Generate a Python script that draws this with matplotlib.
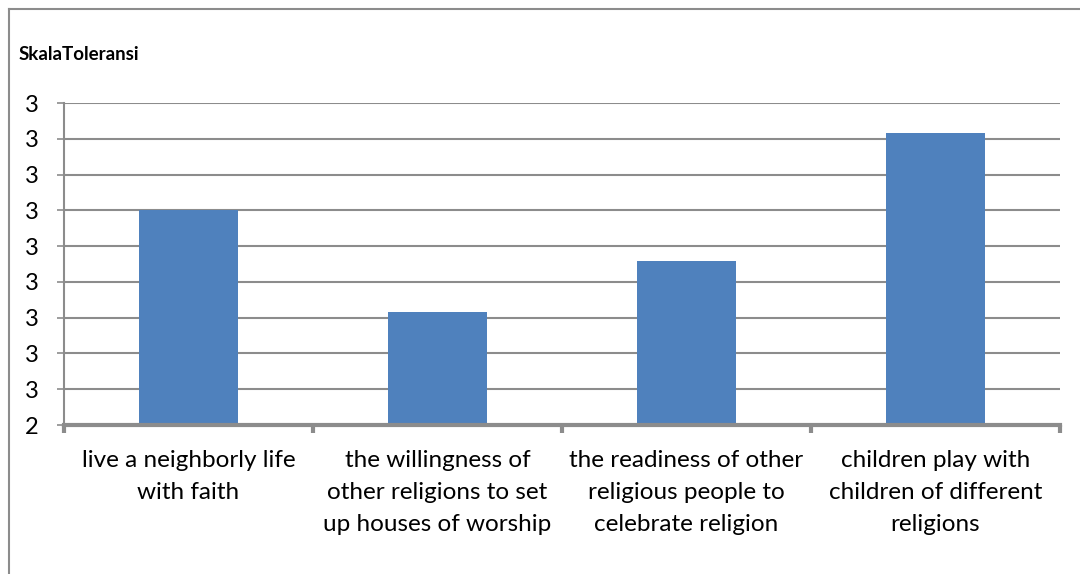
import matplotlib.pyplot as plt
from matplotlib.lines import Line2D

plt.rcParams['font.family'] = ['Lato', 'DejaVu Sans']

categories = [
    'live a neighborly life\nwith faith',
    'the willingness of\nother religions to set\nup houses of worship',
    'the readiness of other\nreligious people to\ncelebrate religion',
    'children play with\nchildren of different\nreligions',
]
values = [2.75, 2.608, 2.679, 2.858]
y_ticks = [2.45, 2.50, 2.55, 2.60, 2.65, 2.70, 2.75, 2.80, 2.85, 2.90]
y_labels = ['2', '3', '3', '3', '3', '3', '3', '3', '3', '3']

grey = '#8c8c8c'

fig = plt.figure(figsize=(10.8, 5.74), dpi=100)
ax = fig.add_axes([64 / 1080, 1 - 425 / 574, 996 / 1080, 322 / 574])

x = range(len(categories))
ax.bar(x, values, width=0.4, color='#4f81bd', zorder=3)

ax.set_xlim(-0.5, len(categories) - 0.5)
ax.set_ylim(y_ticks[0], y_ticks[-1])

ax.set_yticks(y_ticks)
ax.set_yticklabels(y_labels, fontsize=17)
ax.yaxis.grid(True, color=grey, linewidth=1.5, zorder=0)
ax.tick_params(axis='y', length=5, width=1.2, color=grey, pad=13)

ax.set_xticks(list(x))
ax.set_xticklabels(categories, fontsize=17.5, linespacing=1.66)
ax.tick_params(axis='x', which='major', length=0, pad=18)
ax.set_xticks([i - 0.5 for i in range(len(categories) + 1)], minor=True)
ax.tick_params(axis='x', which='minor', length=6, width=3, color=grey,
               direction='out')

for side in ['top', 'right']:
    ax.spines[side].set_visible(False)
ax.spines['left'].set_color(grey)
ax.spines['left'].set_linewidth(1.5)
ax.spines['bottom'].set_color(grey)
ax.spines['bottom'].set_linewidth(3)
ax.spines['bottom'].set_zorder(4)

fig.text(19 / 1080, 1 - 55 / 574, 'SkalaToleransi', fontsize=13.5,
         fontweight='bold', va='center', ha='left')

# outer chart frame (left and top edges visible)
fig.add_artist(Line2D([9 / 1080, 9 / 1080], [0, 1 - 9 / 574],
                      transform=fig.transFigure, color=grey, linewidth=1.5))
fig.add_artist(Line2D([9 / 1080, 1], [1 - 9 / 574, 1 - 9 / 574],
                      transform=fig.transFigure, color=grey, linewidth=1.5))

fig.savefig('out.png', dpi=100)
